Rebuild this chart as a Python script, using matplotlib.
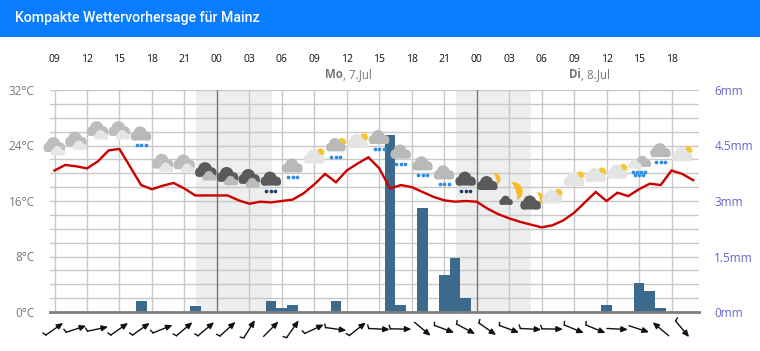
# Kompakte Wettervorhersage: Temperatur, Niederschlag, Wolken und Wind
import numpy as np
import matplotlib
matplotlib.use("Agg")
import matplotlib.pyplot as plt
from matplotlib.patches import Circle, FancyBboxPatch, Polygon, Rectangle

plt.rcParams['font.family'] = ['Open Sans', 'DejaVu Sans']

# Daten
temp = [20.4, 21.2, 21.0, 20.7, 21.7, 23.3, 23.5, 20.9, 18.3, 17.7, 18.2, 18.6, 17.8, 16.8, 16.8,
        16.8, 16.8, 16.1, 15.6, 15.9, 15.8, 16.0, 16.2, 17.1, 18.4, 19.9, 18.7, 20.4, 21.4, 22.3,
        20.7, 17.8, 18.3, 18.0, 17.3, 16.6, 16.1, 15.9, 16.0, 15.9, 14.9, 14.1, 13.5, 13.0, 12.6,
        12.2, 12.5, 13.2, 14.3, 15.8, 17.3, 16.0, 17.2, 16.7, 17.7, 18.5, 18.3, 20.4, 19.9, 19.0]
rain_hour = [8, 13, 20, 21, 22, 26, 31, 32, 34, 36, 37, 38, 51, 54, 55, 56]
rain_mm = [0.3, 0.15, 0.3, 0.1, 0.2, 0.3, 4.78, 0.2, 2.8, 1.0, 1.45, 0.38, 0.2, 0.78, 0.57, 0.1]
night_start = [13.07, 37.09]
night_end = [20.05, 44.0]
midnight_hour = [15, 39]
hour_labels = ['09', '12', '15', '18', '21', '00', '03', '06', '09', '12',
               '15', '18', '21', '00', '03', '06', '09', '12', '15', '18']
temp_ticks = [0, 8, 16, 24, 32]
temp_labels = ['0°C', '8°C', '16°C', '24°C', '32°C']
rain_ticks = [0, 1.5, 3, 4.5, 6]
rain_labels = ['0mm', '1.5mm', '3mm', '4.5mm', '6mm']
icon_level = [23.7, 24.5, 26.0, 26.0, 25.3, 21.3, 21.2, 20.1, 19.4, 19.1,
              18.8, 20.7, 22.3, 23.7, 24.5, 24.8, 22.7, 21.0, 19.7, 18.8,
              18.3, 16.5, 15.5, 16.5, 19.0, 19.6, 20.1, 21.2, 22.9, 22.6]
icon_type = ['cc', 'cc', 'cc', 'cc', 'rain', 'cc', 'cc', 'dark', 'dark', 'dark',
             'darkrain', 'rain', 'sun', 'sunrain', 'sun', 'rain', 'rain', 'rain', 'rain', 'darkrain',
             'moon', 'bigmoon', 'moon', 'sun', 'sun', 'sun', 'sun', 'heavy', 'rain', 'sun']
wind_dir = [35, 18, 12, 35, 35, 22, 40, 40, 42, 58,
            45, 55, 25, -8, 38, -3, -1, -40, -20, -28,
            -35, -20, -3, -1, -22, -22, -3, -18, 140, -50]
wind_barb = [1, 1, 1, 1, 1, 1, 1, 1, 1, 1,
             0, 1, 1, 1, 1, 1, 1, 0, 1, 1,
             1, 1, 1, 1, 1, 1, 0, 0, 0, 1]

GRAU = '#c8c8c8'
TEXT = '#777777'
LILA = '#6464d2'

fig = plt.figure(figsize=(7.6, 3.51), dpi=100)
ax_rain = fig.add_axes([50 / 760, 1 - 312 / 351, 649 / 760, 222 / 351])
ax_temp = ax_rain.twinx()
x_lim = (-0.416, 59.54)

# Nacht, Gitter und Balken liegen auf der Regen-Achse
for a, b in zip(night_start, night_end):
    ax_rain.axvspan(a, b, color='#eeeeee', lw=0, zorder=0)
ax_rain.bar(rain_hour, rain_mm, width=1.0, color='#3b6a8c', zorder=3)
ax_rain.set_xlim(x_lim)
ax_rain.set_ylim(0, 6)
ax_rain.set_yticks(rain_ticks)
ax_rain.set_yticklabels(rain_labels, color=LILA, fontsize=8.5)
ax_rain.yaxis.tick_right()
ax_rain.tick_params(axis='y', length=0, pad=11)
ax_rain.set_xticks(np.arange(0, 60, 3))
ax_rain.set_xticklabels(hour_labels, fontsize=7.5, color='#111111')
ax_rain.xaxis.tick_top()
ax_rain.tick_params(axis='x', length=0, pad=18)
for y in np.arange(0, 6.01, 0.375):
    ax_rain.axhline(y, color=GRAU, lw=1.0, zorder=1)
for x in np.arange(0, 60, 3):
    col = '#777777' if x in midnight_hour else GRAU
    ax_rain.axvline(x, color=col, lw=1.0, zorder=1)
for s in ax_rain.spines.values():
    s.set_visible(False)
ax_rain.spines['bottom'].set_visible(True)
ax_rain.spines['bottom'].set_color('#808080')
ax_rain.spines['bottom'].set_linewidth(2)
ax_rain.spines['bottom'].set_zorder(5)

# Temperatur
ax_temp.plot(np.arange(len(temp)), temp, color='#cc0000', lw=1.7, zorder=4, solid_joinstyle='miter')
ax_temp.set_xlim(x_lim)
ax_temp.set_ylim(0, 32)
ax_temp.set_yticks(temp_ticks)
ax_temp.set_yticklabels(temp_labels, color=TEXT, fontsize=8.5)
ax_temp.yaxis.tick_left()
ax_temp.tick_params(axis='y', length=0, pad=11)
for s in ax_temp.spines.values():
    s.set_visible(False)

# Ebene in Pixeln für Kopfzeile, Symbole und Wind
ov = fig.add_axes([0, 0, 1, 1], zorder=10)
ov.set_xlim(0, 760)
ov.set_ylim(351, 0)
ov.axis('off')
ov.add_patch(Rectangle((0, 0), 760, 37, color='#0a7cff', lw=0))
ov.text(15, 18, 'Kompakte Wettervorhersage für Mainz', color='white', fontsize=10.15,
        va='center', ha='left', family='Roboto', weight='medium')

# Datum
ov.text(343, 75, 'Mo', color=TEXT, fontsize=8.3, weight='bold', ha='right', va='center')
ov.text(343, 75, ', 7.Jul', color=TEXT, fontsize=8.3, ha='left', va='center')
ov.text(581, 75, 'Di', color=TEXT, fontsize=8.3, weight='bold', ha='right', va='center')
ov.text(581, 75, ', 8.Jul', color=TEXT, fontsize=8.3, ha='left', va='center')


def wolke(cx, cy, s, col, z=2):
    teile = [Circle((cx - 1 * s, cy - 2.5 * s), 6.5 * s), Circle((cx + 5.5 * s, cy + 0.5 * s), 4.5 * s),
             Circle((cx - 6 * s, cy + 0.5 * s), 4.5 * s)]
    for t in teile:
        t.set(color=col, lw=0, zorder=z)
        ov.add_patch(t)
    ov.add_patch(FancyBboxPatch((cx - 10 * s, cy), 20 * s, 5 * s,
                                boxstyle='round,pad=0,rounding_size=%.1f' % (2.5 * s),
                                color=col, lw=0, zorder=z))


def tropfen(cx, cy, col, n=3, d=4.5):
    xs = cx + (np.arange(n) - (n - 1) / 2) * d
    ov.scatter(xs, [cy] * n, s=7, marker='o', color=col, lw=0, zorder=6)


def sonne(cx, cy):
    ov.add_patch(Circle((cx, cy), 3.5, color='#f5c52f', lw=0, zorder=1))
    ov.scatter([cx], [cy], s=55, marker=(10, 1, 0), color='#f5c52f', lw=0, zorder=1)


def mond(cx, cy, r):
    # Sichel: äußerer Bogen und Rückweg über flachere Ellipse, leicht gekippt
    t = np.linspace(-np.pi / 2, np.pi / 2, 40)
    px = np.r_[r * np.cos(t), 0.3 * r * np.cos(t[::-1])]
    py = np.r_[r * np.sin(t), r * np.sin(t[::-1])]
    k = np.deg2rad(-18)
    qx = px * np.cos(k) - py * np.sin(k)
    qy = px * np.sin(k) + py * np.cos(k)
    ov.add_patch(Polygon(np.c_[cx + qx, cy + qy], color='#fbb829', lw=0, zorder=1))


def symbol(art, cx, cy):
    if art == 'cc':
        wolke(cx, cy - 1, 1.05, '#bdbdbd')
        wolke(cx + 3.5, cy + 4.5, 0.68, '#e6e6e6', 3)
    elif art == 'dark':
        wolke(cx, cy - 1, 1.05, '#5a5a5a')
        wolke(cx + 3.5, cy + 4.5, 0.68, '#bbbbbb', 3)
    elif art == 'rain':
        wolke(cx, cy - 1, 1.0, '#b9b9b9')
        tropfen(cx, cy + 9, '#2b8ce6')
    elif art == 'darkrain':
        wolke(cx, cy - 1, 1.0, '#5a5a5a')
        tropfen(cx, cy + 9, '#1f3b66')
    elif art == 'sun':
        sonne(cx + 6, cy - 5)
        wolke(cx, cy + 1, 1.0, '#e4e4e4')
    elif art == 'sunrain':
        sonne(cx + 6, cy - 6)
        wolke(cx, cy - 1, 0.95, '#b9b9b9')
        tropfen(cx, cy + 9, '#2b8ce6')
    elif art == 'moon':
        mond(cx + 7, cy - 6, 6)
        wolke(cx, cy, 1.0, '#5a5a5a')
    elif art == 'bigmoon':
        mond(cx + 4, cy - 6, 9.5)
        wolke(cx - 3, cy + 4, 0.65, '#5a5a5a')
    elif art == 'heavy':
        wolke(cx + 4, cy - 2, 0.8, '#b9b9b9')
        wolke(cx - 4, cy + 0.5, 0.65, '#e6e6e6', 3)
        tropfen(cx, cy + 7, '#2b8ce6', 4, 4)
        tropfen(cx, cy + 10.5, '#2b8ce6', 3, 4)


# Symbole alle zwei Stunden
for i, (art, lev) in enumerate(zip(icon_type, icon_level)):
    px, py = ax_temp.transData.transform((2 * i, lev))
    symbol(art, px, 351 - py)

# Windpfeile alle zwei Stunden
for i, (d, b) in enumerate(zip(wind_dir, wind_barb)):
    px, _ = ax_temp.transData.transform((2 * i, 0))
    w = np.deg2rad(d)
    dx, dy = 10.5 * np.cos(w), -10.5 * np.sin(w)
    x0, y0, x1, y1 = px - dx, 329 - dy, px + dx, 329 + dy
    ov.annotate('', xy=(x1, y1), xytext=(x0, y0),
                arrowprops=dict(arrowstyle='-|>,head_length=0.38,head_width=0.17', color='#111111',
                                lw=1.0, shrinkA=0, shrinkB=0, mutation_scale=10))
    if b:
        w2 = np.deg2rad(d + 110)
        ov.plot([x0, x0 + 3.5 * np.cos(w2)], [y0, y0 - 3.5 * np.sin(w2)], color='#111111', lw=1.0)

fig.savefig('out.png', dpi=100)
